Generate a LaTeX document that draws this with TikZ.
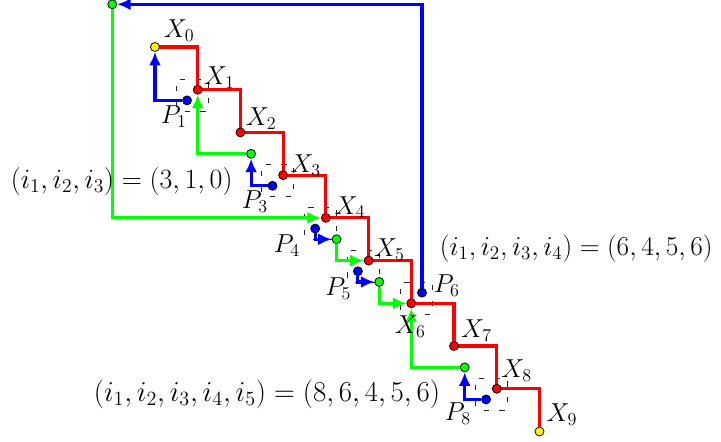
\RequirePackage{fix-cm}
\documentclass[tikz,border=0pt]{standalone}
\usetikzlibrary{arrows.meta,calc}
\pgfdeclarelayer{bg}
\pgfsetlayers{bg,main}
\begin{document}
\begin{tikzpicture}[x=1cm,y=1cm,
  dot/.style={circle,draw=black,line width=0.5pt,inner sep=0pt,minimum size=6pt},
  rdot/.style={dot,fill=red},
  ydot/.style={dot,fill=yellow},
  bdot/.style={dot,fill=blue},
  gdot/.style={dot,fill=green},
  redline/.style={red,line width=2.1pt},
  garr/.style={green,line width=2.1pt,-{Latex[length=9pt,width=8pt]}},
  barr/.style={blue,line width=2.1pt,-{Latex[length=9pt,width=8pt]}},
  dbox/.style={draw=black!85,line width=0.45pt,dash pattern=on 3.5pt off 7pt,dash phase=5pt,minimum size=0.75cm,inner sep=0pt},
  lbl/.style={inner sep=0pt,font=\fontsize{17.28}{20}\selectfont},
  eq/.style={inner sep=0pt}
]
\useasboundingbox (-3.628,-9.223) rectangle (13.249,1.100);

% points
\node[ydot] (X0) at (0,0) {};
\node[rdot] (X1) at (1,-1) {};
\node[rdot] (X2) at (2,-2) {};
\node[rdot] (X3) at (3,-3) {};
\node[rdot] (X4) at (4,-4) {};
\node[rdot] (X5) at (5,-5) {};
\node[rdot] (X6) at (6,-6) {};
\node[rdot] (X7) at (7,-7) {};
\node[rdot] (X8) at (8,-8) {};
\node[ydot] (X9) at (9,-9) {};

\node[bdot] (P1) at (0.75,-1.25) {};
\node[bdot] (P3) at (2.75,-3.25) {};
\node[bdot] (P4) at (3.75,-4.25) {};
\node[bdot] (P5) at (4.75,-5.25) {};
\node[bdot] (P6) at (6.25,-5.75) {};
\node[bdot] (P8) at (7.75,-8.25) {};

\node[gdot] (G0) at (-1,1) {};
\node[gdot] (G3) at (2.25,-2.5) {};
\node[gdot] (G4) at (4.25,-4.5) {};
\node[gdot] (G5) at (5.25,-5.5) {};
\node[gdot] (G8) at (7.25,-7.5) {};

\begin{pgfonlayer}{bg}
% dashed boxes
\node[dbox] (B1) at ($(X1)!0.5!(P1)$) {};
\node[dbox] (B3) at ($(X3)!0.5!(P3)$) {};
\node[dbox] (B4) at ($(X4)!0.5!(P4)$) {};
\node[dbox] (B5) at ($(X5)!0.5!(P5)$) {};
\node[dbox] (B6) at ($(X6)!0.5!(P6)$) {};
\node[dbox] (B8) at ($(X8)!0.5!(P8)$) {};
% red staircase
\draw[redline] (X0.center) -| (X1.center) -| (X2.center) -| (X3.center) -| (X4.center)
  -| (X5.center) -| (X6.center) -| (X7.center) -| (X8.center) -| (X9.center);
\end{pgfonlayer}

% green arrows
\draw[garr] (G0) |- (X4);
\draw[garr] (G3) -| (X1);
\draw[garr] (G4) |- (X5);
\draw[garr] (G5) |- (X6);
\draw[garr] (G8) -| (X6);
% blue arrows
\draw[barr] (P1) -| (X0);
\draw[barr] (P3) -| (G3);
\draw[barr] (P4) |- (G4);
\draw[barr] (P5) |- (G5);
\draw[barr] (P6) |- (G0);
\draw[barr] (P8) -| (G8);

% labels
\node[lbl,anchor=base west] (LX0) at ($(X0)+(0.2,0.23)$) {$X_0$};
\node[lbl,anchor=base west] (LX1) at ($(X1)+(0.14,0.12)$) {$X_1$};
\node[lbl,anchor=base west] (LX2) at ($(X2)+(0.12,0.16)$) {$X_2$};
\node[lbl,anchor=base west] (LX3) at ($(X3)+(0.16,0.07)$) {$X_3$};
\node[lbl,anchor=base west] (LX4) at ($(X4)+(0.2,0.09)$) {$X_4$};
\node[lbl,anchor=base west] (LX5) at ($(X5)+(0.12,0.09)$) {$X_5$};
\node[lbl,anchor=base west] (LX6) at ($(X6)+(-0.39,-0.70)$) {$X_6$};
\node[lbl,anchor=base west] (LX7) at ($(X7)+(0.16,0.19)$) {$X_7$};
\node[lbl,anchor=base west] (LX8) at ($(X8)+(0.10,0.26)$) {$X_8$};
\node[lbl,anchor=base west] (LX9) at ($(X9)+(0.16,0.23)$) {$X_9$};

\node[lbl,anchor=base east] (LP1) at ($(P1)+(0.0,-0.54)$) {$P_1$};
\node[lbl,anchor=base east] (LP3) at ($(P3)+(-0.1,-0.54)$) {$P_3$};
\node[lbl,anchor=base east] (LP4) at ($(P4)+(-0.35,-0.56)$) {$P_4$};
\node[lbl,anchor=base east] (LP5) at ($(P5)+(-0.15,-0.56)$) {$P_5$};
\node[lbl,anchor=base west] (LP6) at ($(P6)+(0.27,0.0)$) {$P_6$};
\node[lbl,anchor=base east] (LP8) at ($(P8)+(-0.35,-0.50)$) {$P_8$};

\node[eq,font=\fontsize{18.6}{22}\selectfont] (E1) at (-0.78,-3.14) {$(i_1,i_2,i_3)=(3,1,0)$};
\node[eq,font=\fontsize{18.2}{22}\selectfont] (E2) at (9.86,-4.71) {$(i_1,i_2,i_3,i_4)=(6,4,5,6)$};
\node[eq,font=\fontsize{19.2}{22}\selectfont] (E3) at (2.62,-8.13) {$(i_1,i_2,i_3,i_4,i_5)=(8,6,4,5,6)$};
\end{tikzpicture}
\end{document}
